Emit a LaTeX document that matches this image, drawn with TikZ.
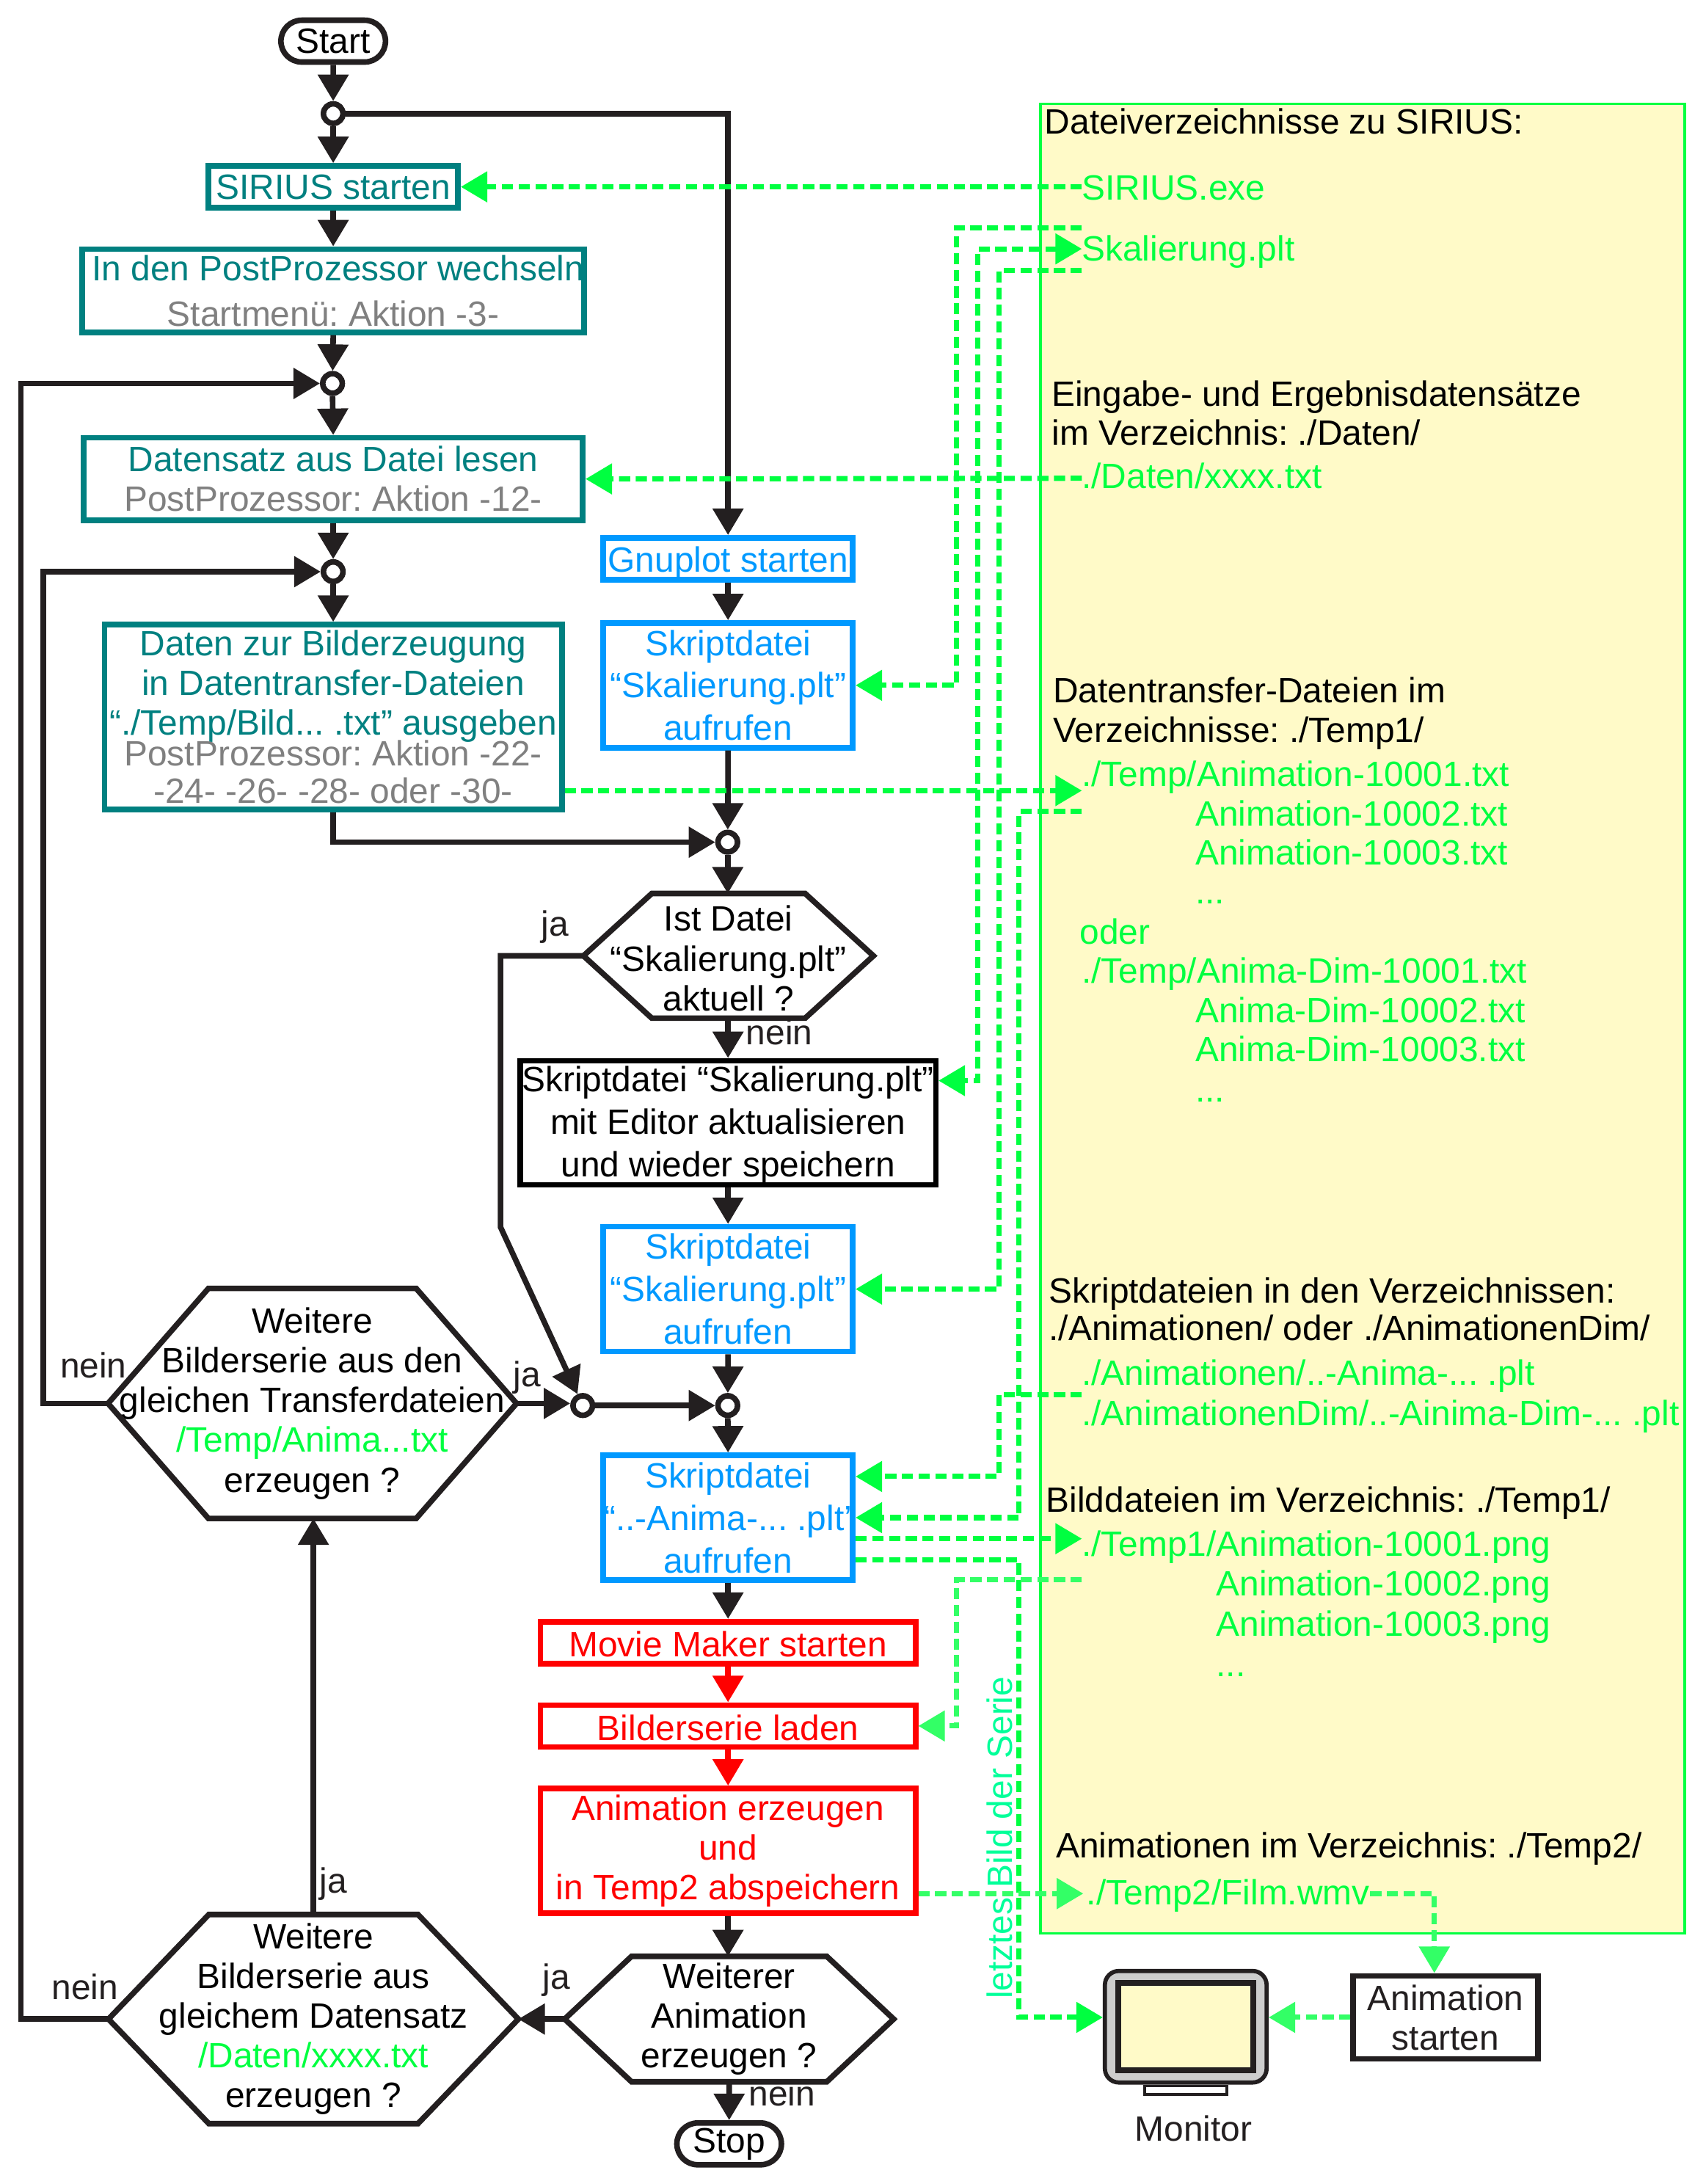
\documentclass[tikz,border=0pt]{standalone}
\usepackage{fontspec}
\setmainfont{Liberation Sans}
\usetikzlibrary{positioning}
\usetikzlibrary{arrows.meta}
\usetikzlibrary{shapes.misc}
\definecolor{flowblack}{RGB}{35,31,32}
\definecolor{sirusteal}{RGB}{0,128,128}
\definecolor{actiongrey}{RGB}{128,128,128}
\definecolor{plotblue}{RGB}{0,153,255}
\definecolor{filegreen}{RGB}{0,255,64}
\definecolor{palegreen}{RGB}{51,255,102}
\definecolor{seriesgreen}{RGB}{0,255,153}
\definecolor{panelyellow}{RGB}{255,250,200}
\definecolor{monitorgrey}{RGB}{205,205,205}
\newcommand{\hexoutline}[2]{
	\draw[draw=flowblack, line width=2pt] (#1.west) -- ([xshift=#2] #1.north west) -- ([xshift=-#2] #1.north east) -- (#1.east) -- ([xshift=-#2] #1.south east) -- ([xshift=#2] #1.south west) -- cycle;
}
\begin{document}
\frenchspacing
\begin{tikzpicture}[
		x=0.5pt,
		y=-0.5pt,
		>={Triangle[length=9.5pt,width=10.7pt]},
		every node/.style={font=\fontsize{12.6}{14.25}\selectfont, inner sep=0pt},
		box/.style={
			rectangle,
			draw,
			line width=2pt,
			align=center
		},
		tealbox/.style={box, draw=sirusteal, text=sirusteal},
		bluebox/.style={box, draw=plotblue, text=plotblue, minimum width=89.5pt},
		redbox/.style={box, draw=red, text=red, minimum width=134.5pt},
		hexbox/.style={rectangle, align=center, outer sep=0pt, text=black},
		junction/.style={circle, draw=flowblack, fill=white, line width=2pt, minimum size=7pt},
		terminal/.style={rounded rectangle, draw=flowblack, line width=2pt, minimum width=37.5pt, minimum height=15pt},
		flow/.style={draw=flowblack, line width=2pt},
		fileflow/.style={draw=filegreen, line width=1.85pt, dash pattern=on 4pt off 2pt},
		paleflow/.style={fileflow, draw=palegreen},
		filetext/.style={anchor=base west, text=filegreen, xshift=-0.5pt, yshift=0.4pt},
		paneltext/.style={anchor=base west, text=black, xshift=-0.5pt, yshift=0.4pt},
		note/.style={text=flowblack}
	]
		\useasboundingbox (0,0) rectangle (1223.16,1566.3);

		\node [draw=filegreen, fill=panelyellow, line width=1pt, minimum width=230.9pt, minimum height=656pt, anchor=north west] (panel) at (745.5,73.5) {};

		\node [paneltext] (dirs) at (750,97) {Dateiverzeichnisse zu SIRIUS:};
		\node [filetext] (exe) at (776.5,144) {SIRIUS.exe};
		\node [filetext] (skal) at (776.5,188) {Skalierung.plt};
		\node [paneltext] (dirsA) at (755,292) {Eingabe- und Ergebnisdatensätze};
		\node [paneltext] (dirsB) at (755,320) {im Verzeichnis: ./Daten/};
		\node [filetext] (xxxx) at (776.5,351) {./Daten/xxxx.txt};
		\node [paneltext] (dirsC) at (756,505) {Datentransfer-Dateien im};
		\node [paneltext] (dirsD) at (756,533) {Verzeichnisse: ./Temp1/};
		\node [filetext] (animA) at (776.5,565) {./Temp/Animation-10001.txt};
		\node [filetext] (animB) at (858,593) {Animation-10002.txt};
		\node [filetext] (animC) at (858,621) {Animation-10003.txt};
		\node [filetext] (animD) at (858,649) {...};
		\node [filetext] (oder) at (775,678) {oder};
		\node [filetext] (dimA) at (776.5,706) {./Temp/Anima-Dim-10001.txt};
		\node [filetext] (dimB) at (858,734) {Anima-Dim-10002.txt};
		\node [filetext] (dimC) at (858,762) {Anima-Dim-10003.txt};
		\node [filetext] (dimD) at (858,791) {...};
		\node [paneltext] (dirsE) at (753,935) {Skriptdateien in den Verzeichnissen:};
		\node [paneltext] (dirsF) at (753,962) {./Animationen/ oder ./AnimationenDim/};
		\node [filetext] (pltA) at (776.5,994) {./Animationen/..-Anima-... .plt};
		\node [filetext] (pltB) at (776.5,1023) {./AnimationenDim/..-Ainima-Dim-... .plt};
		\node [paneltext] (dirsG) at (751,1085) {Bilddateien im Verzeichnis: ./Temp1/};
		\node [filetext] (pngA) at (776.5,1117) {./Temp1/Animation-10001.png};
		\node [filetext] (pngB) at (873,1145) {Animation-10002.png};
		\node [filetext] (pngC) at (873,1174) {Animation-10003.png};
		\node [filetext] (pngD) at (873,1203) {...};
		\node [paneltext] (dirsH) at (758,1333) {Animationen im Verzeichnis: ./Temp2/};
		\node [filetext] (film) at (780,1367) {./Temp2/Film.wmv};

		\node [terminal] (start) at (239,29.5) {Start};
		\node [junction] (J1) at (239,81.5) {};
		\node [tealbox, minimum width=89.5pt, minimum height=15pt] (sirius) at (239,134) {SIRIUS starten};
		\node [tealbox, minimum width=179pt, minimum height=29.8pt] (post) at (239,208.5) {\hspace*{3.5pt}In den PostProzessor wechseln\\[2pt] \textcolor{actiongrey}{Startmenü: Aktion -3-}};
		\node [junction] (J2) at (238.5,275) {};
		\node [tealbox, minimum width=179pt, minimum height=29.5pt] (read) at (239,343.5) {Datensatz aus Datei lesen\\ \textcolor{actiongrey}{PostProzessor: Aktion -12-}};
		\node [junction] (J3) at (239,410) {};
		\node [tealbox, minimum width=164pt, minimum height=66.2pt] (transfer) at (239,514.2) {Daten zur Bilderzeugung\\in Datentransfer-Dateien\\“./Temp/Bild... .txt” ausgeben\\[-3.25pt] \textcolor{actiongrey}{PostProzessor: Aktion -22-}\\[-0.75pt] \textcolor{actiongrey}{-24- -26- -28- oder -30-}};

		\node [bluebox, minimum height=15pt] (gnuplot) at (522.2,400.7) {\rule{0pt}{12.2pt}Gnuplot starten};
		\node [bluebox, minimum height=44.7pt] (skriptA) at (522.2,491.5) {Skriptdatei\\[1pt]“Skalierung.plt”\\[1pt]aufrufen};
		\node [junction] (J4) at (522,604) {};
		\node [hexbox, minimum width=104pt, minimum height=44.7pt] (askA) at (522.5,685.5) {\rule{0pt}{11pt}Ist Datei\\“Skalierung.plt”\\aktuell ?};
		\node [box, draw=black, minimum width=149pt, minimum height=44.5pt] (editor) at (522.2,805.3) {\rule{0pt}{10.5pt}Skriptdatei “Skalierung.plt”\\[1pt]mit Editor aktualisieren\\[1pt]und wieder speichern};
		\node [bluebox, minimum height=44.7pt] (skriptB) at (522.2,924.5) {Skriptdatei\\[1pt]“Skalierung.plt”\\[1pt]aufrufen};
		\node [junction] (J5) at (522,1008) {};
		\node [junction] (J6) at (418,1008) {};
		\node [bluebox, minimum height=44.7pt] (skriptC) at (522.2,1088.4) {Skriptdatei\\[1pt]“..-Anima-... .plt’\\[1pt]aufrufen};
		\node [redbox, minimum height=15pt] (movie) at (522.2,1178) {\rule{0pt}{10.2pt}Movie Maker starten};
		\node [redbox, minimum height=15pt, below=12.9pt of movie] (load) {\rule{0pt}{10.2pt}Bilderserie laden};
		\node [redbox, minimum height=44.8pt, below=12.9pt of load] (render) {Animation erzeugen\\und\\in Temp2 abspeichern};
		\node [hexbox, minimum width=118pt, minimum height=45pt] (askB) at (523,1448) {Weiterer\\Animation\\erzeugen ?};
		\node [terminal] (stop) at (523,1537.5) {Stop};
		\node [hexbox, minimum width=146.5pt, minimum height=82.5pt] (askC) at (224,1006.5) {Weitere\\Bilderserie aus den\\gleichen Transferdateien\\\textcolor{filegreen}{/Temp/Anima...txt}\\erzeugen ?};
		\node [hexbox, minimum width=147pt, minimum height=75pt] (askD) at (224.8,1448) {Weitere\\Bilderserie aus\\gleichem Datensatz\\\textcolor{filegreen}{/Daten/xxxx.txt}\\erzeugen ?};
		\hexoutline{askA}{24.5pt}
		\hexoutline{askB}{24pt}
		\hexoutline{askC}{36pt}
		\hexoutline{askD}{36pt}

		\node [note] (ja1) at (398,665) {ja};
		\node [note] (nein1) at (559,740) {nein};
		\node [note] (nein2) at (67,979) {nein};
		\node [note] (ja2) at (378,988) {ja};
		\node [note] (ja3) at (239,1351) {ja};
		\node [note] (nein3) at (61,1425) {nein};
		\node [note] (ja4) at (399,1420) {ja};
		\node [note] (nein4) at (561,1501) {nein};
		\node [text=seriesgreen, rotate=90] (last) at (717,1318) {letztes Bild der Serie};

		\node [rectangle, rounded corners=5pt, draw=flowblack, fill=monitorgrey, line width=1.5pt, minimum width=58pt, minimum height=40pt] (monitor) at (850.5,1453.5) {};
		\node [rectangle, draw=flowblack, fill=panelyellow, line width=2pt, minimum width=48.3pt, minimum height=31.3pt] (screen) at (850.5,1453.5) {};
		\node [rectangle, draw=flowblack, line width=1pt, minimum width=29.3pt, minimum height=3pt] (stand) at (850.5,1499) {};
		\node [note] (monlabel) at (856,1526.5) {Monitor};
		\node [box, draw=flowblack, text=flowblack, minimum width=66.2pt, minimum height=29.8pt] (play) at (1036.8,1446.8) {Animation\\starten};

		\draw[flow, ->] (start) -- (J1);
		\draw[flow, ->] (J1) -- (sirius);
		\draw[flow, ->] (sirius) -- (post);
		\draw[flow, ->] (post.south) -- (J2);
		\draw[flow, ->] (J2.south) -- (read.north);
		\draw[flow, ->] (read) -- (J3);
		\draw[flow, ->] (J3) -- (transfer.north -| J3);
		\draw[flow, ->] (J1) -| (gnuplot);
		\draw[flow, ->] (gnuplot) -- (skriptA);
		\draw[flow, ->] (skriptA.south) -- (J4);
		\draw[flow, ->] (transfer) |- (J4);
		\draw[flow, ->] (J4) -- (askA.north -| J4);
		\draw[flow, ->] (askA.south -| editor) -- (editor);
		\draw[flow, ->] (editor) -- (skriptB);
		\draw[flow, ->] (skriptB.south) -- (J5);
		\draw[flow, ->] (J5) -- (skriptC.north);
		\draw[flow, ->] (skriptC) -- (movie);
		\draw[flow, draw=red, ->] (movie) -- (load);
		\draw[flow, draw=red, ->] (load) -- (render);
		\draw[flow, ->] (render) -- (askB.north -| render);
		\draw[flow, ->] (askB.south) -- (stop);
		\draw[flow, ->] (askB.west) -- (askD.east);
		\draw[flow, ->] (askD.north) -- (askD.north |- askC.south);
		\draw[flow, ->] (askC.east) -- (J6.west |- askC.east);
		\draw[flow, ->] (J6) -- (J5);
		\draw[flow, ->] (askA.west) -- ++(-59.5,0) -- ++(0,194.5) -- (J6);
		\draw[flow, ->] (askC.west) -- ++(-46.5,0) |- (J3);
		\draw[flow, ->] (askD.west) -- ++(-62.8,0) |- (J2);

		\coordinate (exeEnd) at (776,134);
		\coordinate (skalTop) at (776,163.5);
		\coordinate (skalIn) at (776,178.5);
		\coordinate (skalLow) at (776,194);
		\coordinate (xxxxEnd) at (776,343);
		\coordinate (animIn) at (776,567);
		\coordinate (animOut) at (776,582);
		\coordinate (pltEnd) at (776,1000);
		\coordinate (pngIn) at (776,1103.5);
		\coordinate (pngOut) at (776,1133);
		\coordinate (filmIn) at (777,1358);

		\draw[fileflow, ->] (exeEnd) -- (sirius.east);
		\draw[fileflow, ->] (skalTop) -- ++(-90,0) |- (skriptA.east);
		\draw[fileflow, <->] (skalIn) -- ++(-74.5,0) |- (editor.east |- 0,775);
		\draw[fileflow, ->] (skalLow) -- ++(-59.5,0) |- (skriptB.east);
		\draw[fileflow, ->] (xxxxEnd) -- (read.east);
		\draw[fileflow, ->] (transfer.east |- animIn) -- (animIn);
		\draw[fileflow, ->] (animOut) -- ++(-45,0) |- (skriptC.east);
		\draw[fileflow, ->] (pltEnd) -- ++(-59.5,0) |- ([yshift=14.75pt] skriptC.east);
		\draw[fileflow, ->] (skriptC.east |- pngIn) -- (pngIn);
		\draw[fileflow, ->] (skriptC.east |- 0,1118.5) -- (731,1118.5) |- (monitor.west |- play.west);
		\draw[paleflow, ->] (pngOut) -- ++(-90,0) |- (load.east);
		\draw[paleflow, ->] (render.east |- filmIn) -- (filmIn);
		\draw[paleflow, ->] (film.base east |- filmIn) -| ([xshift=-4pt] play.north);
		\draw[paleflow, ->] (play.west) -- (monitor.east |- play.west);
	\end{tikzpicture}
\end{document}
